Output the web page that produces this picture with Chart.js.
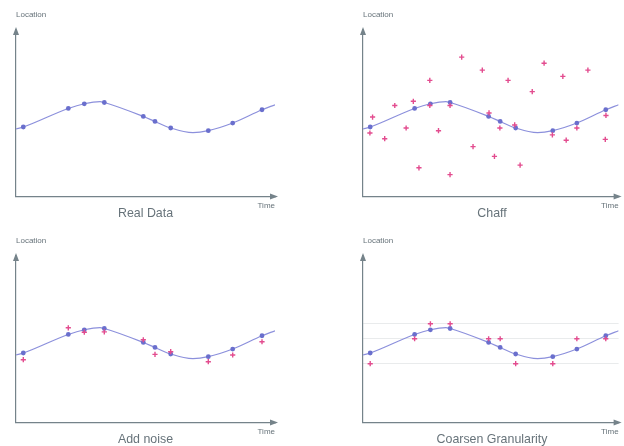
<!DOCTYPE html>
<html>
<head>
<meta charset="utf-8">
<script src="https://cdn.jsdelivr.net/npm/chart.js@4.4.0/dist/chart.umd.min.js"></script>
<style>
  html, body { margin: 0; padding: 0; background: #fff; overflow: hidden; }
  canvas { position: absolute; }
</style>
</head>
<body>
<canvas id="real" width="312" height="223" style="left:0;top:0"></canvas>
<canvas id="chaff" width="312" height="223" style="left:312px;top:0"></canvas>
<canvas id="noise" width="312" height="223" style="left:0;top:226px"></canvas>
<canvas id="coarse" width="312" height="223" style="left:312px;top:226px"></canvas>
<script>
// sampled positions of the real trace (time, location)
const sampleTimes = [7.3, 52.3, 68.3, 88.3, 127.3, 139, 154.7, 192.3, 216.7, 246];
const sampleLocs = [69.7, 88.3, 93, 94.3, 80.3, 75.3, 68.7, 66, 73.7, 87];

// the trace itself: ends, turning points and the samples
const pathTimes = [0, 7.3, 52.3, 68.3, 84, 88.3, 127.3, 139, 154.7, 177, 192.3, 216.7, 246, 259];
const pathLocs = [67.7, 69.7, 88.3, 93, 95.2, 94.3, 80.3, 75.3, 68.7, 64, 66, 73.7, 87, 92];

// fake points mixed in for "Chaff"
const chaffTimes = [9.7, 7, 22, 32.2, 43.7, 51, 67.7, 67.7, 56.7, 76.5, 88.2, 88.2, 100, 111.5, 120.9,
  127.7, 133.2, 138.7, 147, 153.7, 159.2, 171.5, 183.5, 191.9, 202.5, 205.9, 216.7, 227.9, 246.2, 245.5];
const chaffLocs = [79.7, 63.7, 58, 91.3, 68.7, 95.5, 116.5, 91.3, 28.8, 66, 91.3, 22, 139.8, 50, 126.8,
  83.8, 40.3, 68.7, 116.5, 71.8, 31.5, 105.2, 133.7, 61.8, 120.5, 56.5, 68.7, 126.8, 81.3, 57.3];

// "Add noise" and "Coarsen Granularity" versions of the samples
const noisyLocs = [63, 95, 90.6, 90.9, 83, 68.3, 71, 61, 67.7, 81];
const coarseLevels = [59, 84, 99];
const coarseLocs = [59, 84, 99, 99, 84, 84, 59, 59, 84, 84];

const panelTitles = ["Real Data", "Chaff", "Add noise", "Coarsen Granularity"];

const axisColor = "#75838a";
const textColor = "#67737a";
const traceColor = "#8c90dc";
const sampleColor = "#6a6fcd";
const fakeColor = "#e34c8f";

Chart.defaults.font.family = "'Liberation Sans', Arial, sans-serif";

const toPoints = (xs, ys) => xs.map((x, i) => ({ x: x, y: ys[i] }));

// arrow heads on the end of both axes
const axisArrows = {
  id: "axisArrows",
  afterDraw(chart) {
    const { ctx, chartArea: a } = chart;
    ctx.save();
    ctx.fillStyle = axisColor;
    ctx.beginPath();
    ctx.moveTo(a.left, a.top - 3);
    ctx.lineTo(a.left - 3, a.top + 5);
    ctx.lineTo(a.left + 3, a.top + 5);
    ctx.closePath();
    ctx.fill();
    ctx.beginPath();
    ctx.moveTo(a.right + 3, a.bottom);
    ctx.lineTo(a.right - 5, a.bottom - 3);
    ctx.lineTo(a.right - 5, a.bottom + 3);
    ctx.closePath();
    ctx.fill();
    ctx.restore();
  }
};

function makePanel(id, title, extra, padLeft, padRight, levels) {
  const datasets = [];
  if (extra) {
    datasets.push({
      type: "scatter",
      data: extra,
      pointStyle: "cross",
      pointRadius: 2.6,
      borderWidth: 1.4,
      borderColor: fakeColor,
      backgroundColor: fakeColor
    });
  }
  datasets.push({
    type: "scatter",
    data: toPoints(sampleTimes, sampleLocs),
    pointRadius: 2.4,
    borderWidth: 0,
    backgroundColor: sampleColor
  });
  datasets.push({
    type: "line",
    data: toPoints(pathTimes, pathLocs),
    borderColor: traceColor,
    borderWidth: 1.2,
    pointRadius: 0,
    cubicInterpolationMode: "monotone",
    fill: false
  });

  return new Chart(document.getElementById(id), {
    type: "scatter",
    data: { datasets },
    plugins: [axisArrows],
    options: {
      responsive: false,
      animation: false,
      events: [],
      layout: { padding: { left: padLeft, right: padRight, top: 0, bottom: 0 } },
      plugins: {
        legend: { display: false },
        tooltip: { enabled: false },
        title: {
          display: true,
          text: "Location",
          align: "start",
          color: textColor,
          font: { size: 8, weight: "normal" },
          padding: { top: 10.2, bottom: 10.2 }
        },
        subtitle: {
          display: true,
          position: "bottom",
          text: title,
          color: textColor,
          font: { size: 12.4 },
          padding: { top: -8.3, bottom: 2.3 }
        }
      },
      scales: {
        x: {
          type: "linear",
          min: 0,
          max: 259,
          ticks: { display: false },
          grid: { display: false, drawTicks: false },
          border: { display: true, color: axisColor, width: 1.2 },
          title: {
            display: true,
            text: "Time",
            align: "end",
            color: textColor,
            font: { size: 8 },
            padding: { top: 4, bottom: 4 }
          }
        },
        y: {
          type: "linear",
          min: 0,
          max: 167,
          afterBuildTicks: levels ? (scale) => { scale.ticks = levels.map((v) => ({ value: v })); } : undefined,
          ticks: { display: false },
          grid: { display: !!levels, drawTicks: false, color: "#e9ebec", lineWidth: 1 },
          border: { display: true, color: axisColor, width: 1.2 }
        }
      }
    }
  });
}

makePanel("real", panelTitles[0], null, 16, 37, null);
makePanel("chaff", panelTitles[1], toPoints(chaffTimes, chaffLocs), 51, 3, null);
makePanel("noise", panelTitles[2], toPoints(sampleTimes, noisyLocs), 16, 37, null);
makePanel("coarse", panelTitles[3], toPoints(sampleTimes, coarseLocs), 51, 3, coarseLevels);
</script>
</body>
</html>
